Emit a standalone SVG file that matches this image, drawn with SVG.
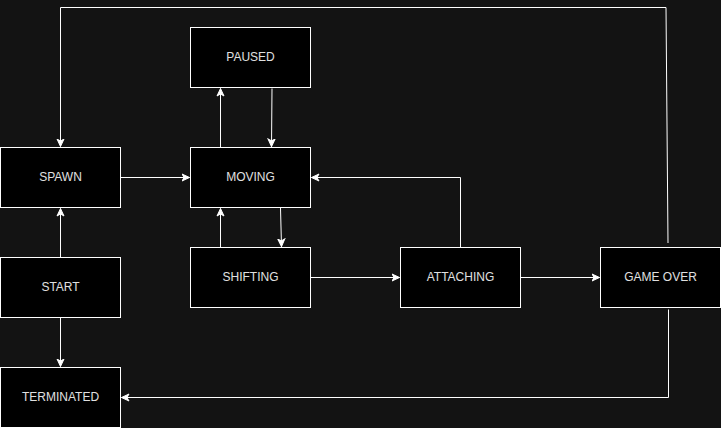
<svg xmlns="http://www.w3.org/2000/svg" width="721" height="428" viewBox="0 0 721 428">
<style>
.node rect{fill:#000000;stroke:#ffffff;stroke-width:1}
.node text{font-family:"Liberation Sans",Arial,sans-serif;font-size:12px;fill:#e0e0e0;text-anchor:middle;dominant-baseline:central}
.edge{fill:none;stroke:#ffffff;stroke-width:1}
</style>
<defs>
<marker id="arr" markerUnits="userSpaceOnUse" markerWidth="10" markerHeight="10" refX="8" refY="4" orient="auto" viewBox="0 0 10 8">
<path d="M0.5,0.5 L8,4 L0.5,7.5 L2.5,4 Z" fill="#ffffff" stroke="#ffffff" stroke-width="1"/>
</marker>
</defs>
<rect x="0" y="0" width="721" height="428" fill="#131313"/>
<g id="connectors">
<path class="edge" d="M668,243 L666,7.5 L60.5,7.5 L60.5,146.5" marker-end="url(#arr)"/>
<path class="edge" d="M120.5,177.5 L189.5,177.5" marker-end="url(#arr)"/>
<path class="edge" d="M60.5,257.5 L60.5,208.5" marker-end="url(#arr)"/>
<path class="edge" d="M60.5,317.5 L60.5,366.5" marker-end="url(#arr)"/>
<path class="edge" d="M668.5,309.5 L668.5,397.5 L121.5,397.5" marker-end="url(#arr)"/>
<path class="edge" d="M220.5,147.5 L220.5,88.5" marker-end="url(#arr)"/>
<path class="edge" d="M272,88.5 L271.5,146.5" marker-end="url(#arr)"/>
<path class="edge" d="M220.5,247.5 L220.5,208.5" marker-end="url(#arr)"/>
<path class="edge" d="M280.5,208 L281.5,246.5" marker-end="url(#arr)"/>
<path class="edge" d="M310.5,277.5 L399.5,277.5" marker-end="url(#arr)"/>
<path class="edge" d="M460.5,247.5 L460.5,177.5 L311.5,177.5" marker-end="url(#arr)"/>
<path class="edge" d="M520.5,277.5 L599.5,277.5" marker-end="url(#arr)"/>
</g>
<g id="node-paused" class="node"><rect x="190.5" y="27.5" width="120" height="60"/><text x="250.5" y="56.5">PAUSED</text></g>
<g id="node-spawn" class="node"><rect x="0.5" y="147.5" width="120" height="60"/><text x="60.5" y="176.5">SPAWN</text></g>
<g id="node-moving" class="node"><rect x="190.5" y="147.5" width="120" height="60"/><text x="250.5" y="176.5">MOVING</text></g>
<g id="node-shifting" class="node"><rect x="190.5" y="247.5" width="120" height="60"/><text x="250.5" y="276.5">SHIFTING</text></g>
<g id="node-start" class="node"><rect x="0.5" y="257.5" width="120" height="60"/><text x="60.5" y="286.5">START</text></g>
<g id="node-attaching" class="node"><rect x="400.5" y="247.5" width="120" height="60"/><text x="460.5" y="276.5">ATTACHING</text></g>
<g id="node-gameover" class="node"><rect x="600.5" y="247.5" width="120" height="60"/><text x="660.5" y="276.5">GAME OVER</text></g>
<g id="node-terminated" class="node"><rect x="0.5" y="367.5" width="120" height="60"/><text x="60.5" y="396.5">TERMINATED</text></g>
</svg>
